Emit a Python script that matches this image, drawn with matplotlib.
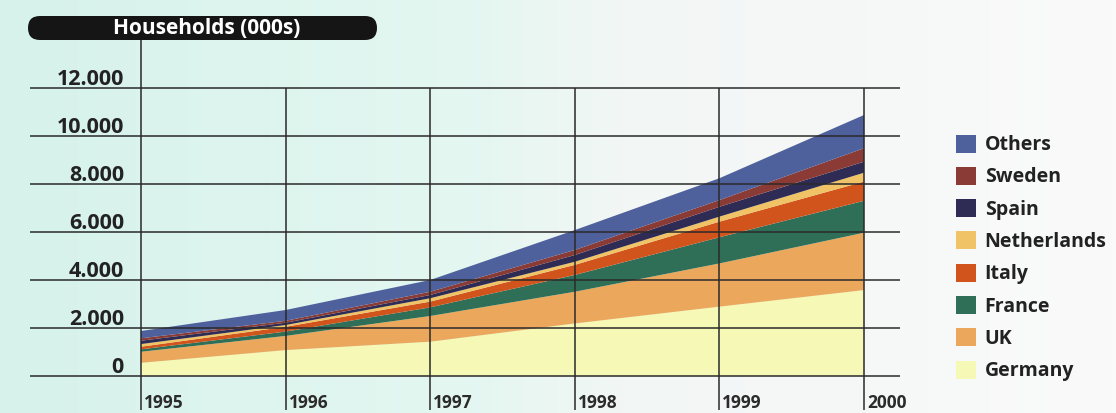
import numpy as np
import matplotlib.pyplot as plt
from matplotlib.patches import FancyBboxPatch, Patch
from matplotlib.colors import LinearSegmentedColormap

plt.rcParams['font.family'] = ['Open Sans', 'DejaVu Sans']

#data (thousands of households)
years = [1995, 1996, 1997, 1998, 1999, 2000]
germany = [550, 1080, 1430, 2190, 2890, 3580]
uk = [460, 590, 1070, 1320, 1800, 2390]
france = [100, 180, 360, 700, 1090, 1330]
italy = [110, 200, 240, 420, 650, 800]
netherlands = [110, 75, 140, 130, 210, 370]
spain = [140, 95, 135, 280, 410, 460]
sweden = [100, 80, 135, 210, 280, 560]
others = [305, 450, 490, 830, 910, 1385]

names = ['Germany', 'UK', 'France', 'Italy', 'Netherlands', 'Spain', 'Sweden', 'Others']
colors = ['#f6f8b6', '#eba85c', '#2f6f58', '#d1541d', '#f0c466', '#2e2c55', '#8b3b36', '#4f619c']
yticks = [0, 2000, 4000, 6000, 8000, 10000, 12000]
ytick_labels = ['0', '2.000', '4.000', '6.000', '8.000', '10.000', '12.000']

W, H = 1116, 413
fig = plt.figure(figsize=(W/100, H/100), dpi=100)

#background gradient, in pixel units
bg = fig.add_axes([0, 0, 1, 1], zorder=0)
cmap = LinearSegmentedColormap.from_list('bg', [(0, '#d6f2eb'), (0.42, '#e4f7f1'),
                                                (0.56, '#f2f6f5'), (1, '#fafafa')])
bg.imshow(np.linspace(0, 1, 256)[None, :], aspect='auto', cmap=cmap, extent=[0, W, H, 0])
bg.set_xlim(0, W)
bg.set_ylim(H, 0)
bg.set_axis_off()

#header
box = FancyBboxPatch((28, 16), 349, 24, boxstyle='round,pad=0,rounding_size=12',
                     facecolor='#151515', edgecolor='none', zorder=4)
bg.add_patch(box)
bg.text(207, 29, 'Households (000s)', color='white', fontsize=15, fontweight='bold',
        ha='center', va='center', zorder=5)

#main axes: 1995 at x=141px, 2000 at 864px, 0 at y=376px, 12000 at y=88px
x0, x1, y0, y1 = 141, 864, 376, 88
ax = fig.add_axes([x0/W, (H-y0)/H, (x1-x0)/W, (y0-y1)/H], zorder=1)
ax.patch.set_alpha(0)
ax.set_xlim(1995, 2000)
ax.set_ylim(0, 12000)

series = [germany, uk, france, italy, netherlands, spain, sweden, others]
ax.stackplot(years, *series, colors=colors, linewidth=0, zorder=2)

px_year = (x1-x0)/5
px_val = (y0-y1)/12000
ax.hlines(yticks, 1995 - 111/px_year, 2000 + 36/px_year, color='#2a2a2a', lw=1.1,
          clip_on=False, zorder=3)
for yr in years:
    top = 12000 + 48/px_val if yr == 1995 else 12000
    ax.vlines(yr, -34/px_val, top, color='#2a2a2a', lw=1.1, clip_on=False, zorder=3)
    ax.text(yr + 3/px_year, -32/px_val, str(yr), fontsize=12.5, fontweight='bold',
            color='#2b2b2b', ha='left', va='baseline')
for v, lab in zip(yticks, ytick_labels):
    ax.text(1995 - 17/px_year, v + 3/px_val, lab, fontsize=15.5, fontweight='bold',
            color='#222222', ha='right', va='baseline')
ax.set_axis_off()

#legend
handles = [Patch(facecolor=c, edgecolor='none') for c in colors][::-1]
fig.legend(handles, names[::-1], loc='upper left', bbox_to_anchor=(938/W, (H-117)/H),
           frameon=False, prop={'size': 14, 'weight': 'bold'}, handlelength=1.05,
           handleheight=1.05, handletextpad=0.45, labelspacing=0.6, labelcolor='#222222')

fig.savefig('out.png', dpi=100)
